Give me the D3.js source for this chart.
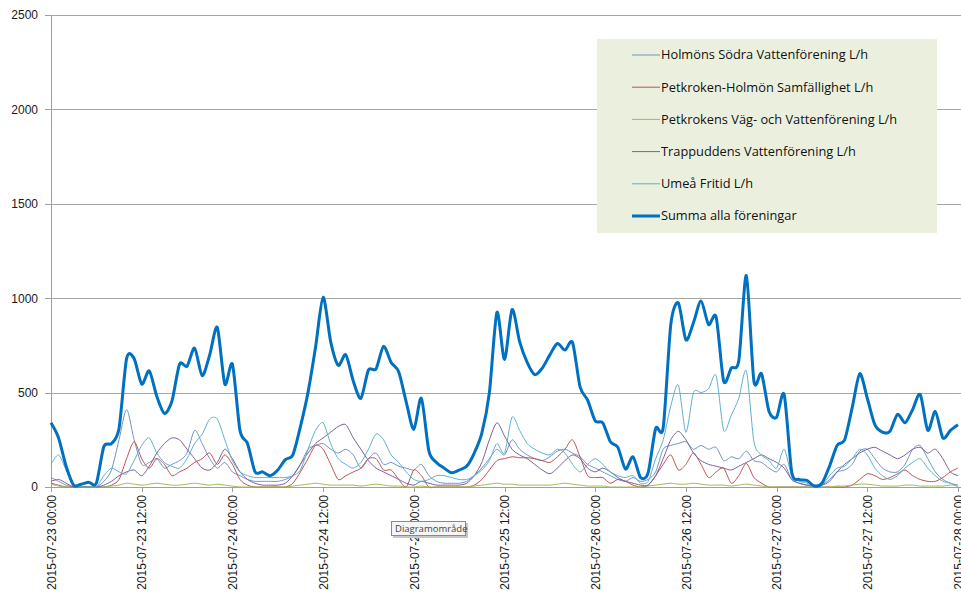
<!DOCTYPE html>
<html lang="sv">
<head>
<meta charset="UTF-8">
<title>Vattenförbrukning L/h</title>
<script src="https://cdn.jsdelivr.net/npm/d3@7"></script>
<style type="text/css">
	body { margin: 0; background: #fff; }
	svg { display: block; font-family: "Open Sans", "Liberation Sans", sans-serif; }
	.grid line { stroke: #a6a6a6; stroke-width: 1; shape-rendering: crispEdges; }
	.axis path, .axis line { stroke: #a0a0a0; shape-rendering: crispEdges; }
	.axis text { fill: #1a1a1a; font-size: 12px; }
	.series { fill: none; stroke-width: 1; }
	.legend text { font-size: 12.8px; fill: #111; }
	.tip text { font-size: 9.5px; fill: #444; }
</style>
</head>
<body>
<script type="text/javascript">

// hourly values from 2015-07-23 00:00 to 2015-07-28 00:00
var seriesNames = [
	'Holmöns Södra Vattenförening L/h',
	'Petkroken-Holmön Samfällighet L/h',
	'Petkrokens Väg- och Vattenförening L/h',
	'Trappuddens Vattenförening L/h',
	'Umeå Fritid L/h',
	'Summa alla föreningar'
];

var holmonsSodra = [
	50, 30, 10, 0, 0, 0, 0, 30, 90, 250, 410, 250, 120, 130, 150, 100, 120, 140, 180, 300,
	230, 150, 100, 130, 80, 60, 40, 30, 30, 30, 30, 40, 60, 120, 200, 220, 230, 200, 180, 200,
	170, 100, 150, 180, 120, 130, 110, 100, 90, 120, 60, 30, 20, 20, 20, 30, 60, 100, 150, 200,
	170, 250, 200, 170, 150, 140, 160, 190, 200, 180, 160, 120, 100, 80, 60, 40, 30, 50, 30, 40,
	80, 200, 220, 230, 240, 200, 220, 200, 210, 140, 160, 150, 190, 140, 130, 100, 80, 120, 40, 20,
	10, 0, 10, 40, 80, 90, 120, 190, 200, 150, 100, 80, 80, 120, 200, 220, 150, 80, 40, 20, 10
];

var petkrokenHolmon = [
	20, 10, 0, 0, 0, 0, 0, 0, 10, 40, 150, 240, 150, 100, 150, 120, 60, 80, 100, 130,
	150, 180, 120, 170, 120, 40, 10, 0, 0, 0, 0, 0, 20, 80, 150, 220, 200, 120, 40, 60,
	80, 100, 150, 150, 90, 90, 40, 0, 90, 60, 0, 0, 0, 0, 0, 0, 10, 40, 90, 140,
	150, 160, 155, 155, 150, 140, 130, 160, 200, 250, 160, 60, 50, 50, 20, 40, 30, 10, 0, 10,
	60, 120, 170, 90, 120, 180, 120, 50, 80, 100, 20, 60, 125, 50, 20, 0, 0, 0, 0, 0,
	0, 0, 0, 0, 0, 0, 10, 40, 70, 60, 40, 50, 70, 90, 60, 40, 30, 30, 50, 80, 100
];

var petkrokensVag = [
	15, 5, 0, 0, 0, 0, 0, 0, 5, 10, 20, 15, 10, 15, 20, 15, 10, 10, 15, 20,
	15, 10, 15, 10, 5, 0, 0, 0, 0, 0, 0, 0, 5, 10, 15, 20, 15, 10, 10, 10,
	10, 5, 10, 15, 10, 5, 5, 0, 0, 5, 0, 0, 0, 0, 0, 0, 5, 10, 15, 20,
	15, 15, 10, 10, 10, 10, 10, 15, 20, 15, 10, 5, 5, 5, 0, 0, 0, 0, 0, 5,
	10, 15, 20, 15, 15, 20, 15, 10, 10, 10, 5, 10, 15, 10, 5, 0, 0, 0, 0, 0,
	0, 0, 0, 0, 5, 5, 10, 15, 15, 10, 5, 5, 5, 10, 10, 5, 5, 5, 5, 10, 10
];

var trappuddens = [
	30, 40, 20, 0, 0, 0, 0, 10, 30, 60, 80, 90, 60, 110, 180, 230, 260, 250, 200, 150,
	100, 90, 130, 200, 150, 80, 40, 20, 10, 10, 10, 20, 60, 120, 180, 230, 260, 290, 320, 330,
	260, 200, 140, 100, 80, 60, 40, 20, 10, 30, 20, 10, 10, 10, 10, 20, 60, 130, 250, 340,
	270, 200, 170, 150, 120, 90, 70, 100, 140, 170, 150, 100, 80, 100, 80, 50, 30, 20, 10, 10,
	60, 150, 250, 295, 250, 180, 140, 120, 110, 100, 90, 110, 130, 150, 170, 150, 130, 100, 40, 20,
	10, 10, 10, 30, 80, 120, 150, 180, 200, 210, 190, 170, 150, 170, 200, 210, 180, 200, 150, 80, 60
];

var umeaFritid = [
	120, 170, 90, 10, 0, 0, 0, 60, 100, 80, 70, 140, 220, 260, 180, 130, 110, 100, 150, 230,
	280, 360, 360, 250, 140, 80, 60, 50, 50, 50, 50, 50, 60, 90, 200, 300, 340, 230, 150, 120,
	100, 130, 200, 280, 250, 170, 130, 80, 40, 30, 40, 60, 60, 50, 40, 40, 60, 90, 140, 230,
	180, 370, 300, 230, 200, 180, 170, 200, 180, 120, 80, 120, 150, 120, 80, 60, 50, 60, 20, 30,
	150, 250, 430, 540, 290, 500, 500, 520, 590, 300, 380, 470, 615, 240, 170, 140, 100, 200, 60, 30,
	20, 0, 10, 60, 100, 110, 150, 200, 170, 100, 60, 40, 60, 100, 130, 150, 100, 60, 30, 20, 0
];

var summa = [
	340, 260, 110, 10, 15, 25, 20, 215, 230, 310, 680, 680, 545, 615, 480, 390, 455, 650, 640, 735,
	590, 700, 845, 545, 650, 300, 230, 80, 80, 60, 90, 145, 170, 320, 500, 740, 1005, 770, 645, 700,
	560, 470, 620, 625, 745, 660, 610, 450, 305, 470, 190, 130, 100, 75, 90, 110, 180, 285, 500, 925,
	675, 940, 770, 660, 595, 630, 700, 760, 725, 765, 530, 460, 350, 340, 240, 210, 95, 160, 50, 75,
	310, 315, 860, 975, 780, 870, 985, 860, 900, 560, 630, 670, 1120, 560, 600, 400, 370, 490, 80, 40,
	35, 5, 20, 110, 220, 250, 420, 600, 470, 330, 290, 295, 385, 340, 410, 490, 300, 400, 260, 300, 330
];

var seriesValues = [holmonsSodra, petkrokenHolmon, petkrokensVag, trappuddens, umeaFritid, summa];
var seriesColors = ['#6f93c9', '#c0504d', '#9bbb59', '#7a5f9a', '#5fb0c8', '#0070c0'];
var seriesWidths = [1, 1, 1, 1, 1, 3];

var yTicks = [0, 500, 1000, 1500, 2000, 2500];
var startTime = new Date(2015, 6, 23, 0, 0);
var endTime = new Date(2015, 6, 28, 0, 0);

var W = 961, H = 593;
var margin = {top: 15, left: 51, right: 3, bottom: 106};
var width = W - margin.left - margin.right;
var height = H - margin.top - margin.bottom;

var svg = d3.select('body').append('svg')
	.attr('width', W)
	.attr('height', H);

var g = svg.append('g')
	.attr('transform', 'translate(' + margin.left + ',' + margin.top + ')');

var x = d3.scaleTime()
	.domain([startTime, endTime])
	.range([0, width]);

var y = d3.scaleLinear()
	.domain([0, 2500])
	.range([height, 0]);

// gridlines
g.append('g')
	.attr('class', 'grid')
	.selectAll('line')
	.data(yTicks.slice(1))
	.enter().append('line')
	.attr('x1', 0)
	.attr('x2', W - margin.left)
	.attr('y1', function (d) { return Math.round(y(d)) + 0.5; })
	.attr('y2', function (d) { return Math.round(y(d)) + 0.5; });

// y axis
var yAxis = g.append('g')
	.attr('class', 'axis')
	.call(d3.axisLeft(y).tickValues(yTicks).tickFormat(d3.format('d'))
		.tickSize(6).tickPadding(7).tickSizeOuter(0));
yAxis.select('.domain').remove();
yAxis.append('line')
	.attr('x1', 0.5).attr('x2', 0.5)
	.attr('y1', 0).attr('y2', height + 5);

// x axis
var xAxis = g.append('g')
	.attr('class', 'axis')
	.attr('transform', 'translate(0,' + height + ')')
	.call(d3.axisBottom(x)
		.ticks(d3.timeHour.every(12))
		.tickFormat(d3.timeFormat('%Y-%m-%d %H:%M'))
		.tickSize(5)
		.tickSizeOuter(0));
xAxis.select('.domain').attr('d', 'M0,0.5H' + (W - margin.left));
xAxis.selectAll('text')
	.attr('transform', 'rotate(-90)')
	.attr('x', -8)
	.attr('y', 0)
	.attr('dy', '0.35em')
	.style('text-anchor', 'end');

// lines
var line = d3.line()
	.x(function (d, i) { return x(d3.timeHour.offset(startTime, i)); })
	.y(function (d) { return y(d); })
	.curve(d3.curveCardinal.tension(0.2));

g.selectAll('.series')
	.data(seriesValues)
	.enter().append('path')
	.attr('class', 'series')
	.attr('d', line)
	.style('stroke', function (d, i) { return seriesColors[i]; })
	.style('stroke-width', function (d, i) { return seriesWidths[i]; })
	.style('stroke-linejoin', 'round');

// legend
var legend = svg.append('g')
	.attr('class', 'legend')
	.attr('transform', 'translate(597,39)');

legend.append('rect')
	.attr('width', 340)
	.attr('height', 194)
	.attr('fill', '#ebf0de');

var items = legend.selectAll('.item')
	.data(seriesNames)
	.enter().append('g')
	.attr('class', 'item')
	.attr('transform', function (d, i) { return 'translate(0,' + (16 + i * 32.2) + ')'; });

items.append('line')
	.attr('x1', 35).attr('x2', 63)
	.attr('y1', 0).attr('y2', 0)
	.style('stroke', function (d, i) { return seriesColors[i]; })
	.style('stroke-width', function (d, i) { return seriesWidths[i]; });

items.append('text')
	.attr('x', 64)
	.attr('dy', '0.35em')
	.text(function (d) { return d; });

// tooltip left on the chart area
var tip = svg.append('g')
	.attr('class', 'tip')
	.attr('transform', 'translate(391,521)');
tip.append('rect')
	.attr('x', 2).attr('y', 2)
	.attr('width', 75).attr('height', 15)
	.attr('fill', '#c8c8c8');
tip.append('rect')
	.attr('x', 0.5).attr('y', 0.5)
	.attr('width', 74).attr('height', 14)
	.attr('fill', '#f6f6f6')
	.attr('stroke', '#8a8a8a');
tip.append('text')
	.attr('x', 4).attr('y', 11)
	.text('Diagramområde');

</script>
</body>
</html>
